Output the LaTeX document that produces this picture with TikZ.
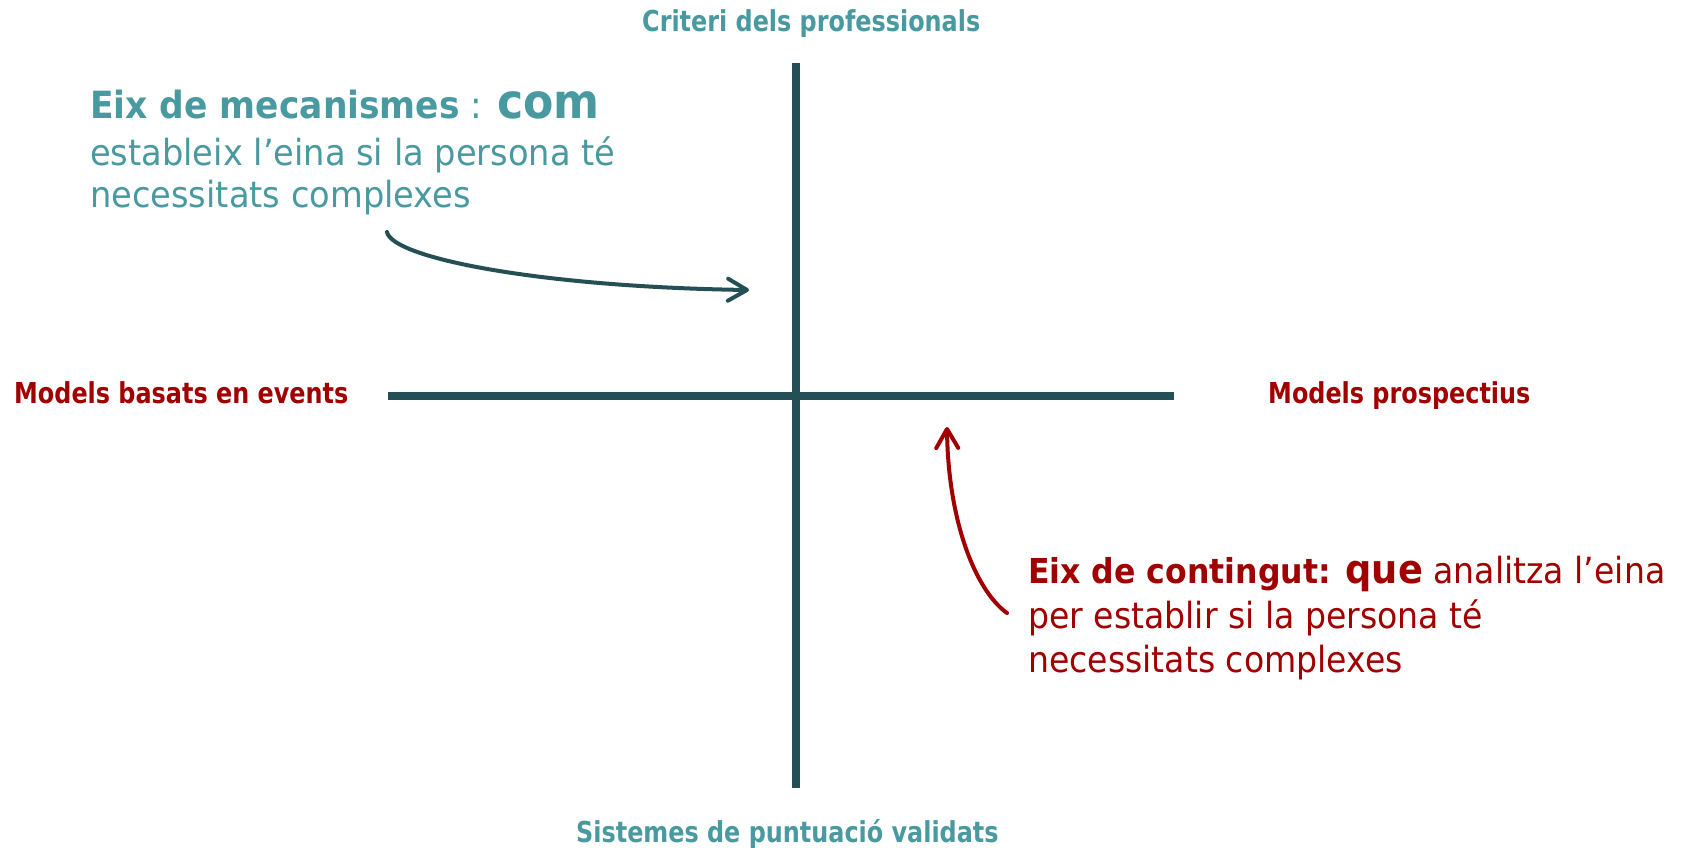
\documentclass[tikz,border=0pt]{standalone}
\usepackage{fontspec}
\setmainfont{DejaVu Sans}
\newfontfamily\labfnt{DejaVu Sans}[FakeStretch=0.83]
\newfontfamily\txtfnt{DejaVu Sans}[FakeStretch=0.92]
\newfontfamily\bodyfnt{DejaVu Sans}[FakeStretch=0.935]
\usetikzlibrary{arrows.meta}
\definecolor{tealtxt}{RGB}{72,153,160}
\definecolor{darkline}{RGB}{36,79,84}
\definecolor{redtxt}{RGB}{160,0,0}
\tikzset{
  axisline/.style={draw=darkline, line width=8pt},
  lbl/.style={inner sep=0pt, anchor=base west, font=\labfnt\bfseries\fontsize{28.8}{34}\selectfont},
  bodyline/.style={inner sep=0pt, anchor=base west, font=\txtfnt\fontsize{36}{44}\selectfont},
  tealbody/.style={inner sep=0pt, anchor=base west, font=\bodyfnt\fontsize{36}{44}\selectfont},
  callout/.style={line width=4pt, -{Straight Barb[length=19pt,width=22pt,line cap=round,line join=round]}, line cap=round}
}
\begin{document}
\begin{tikzpicture}[x=1pt,y=-1pt]
\useasboundingbox[fill=white] (0,0) rectangle (1681,847);
% axes
\coordinate (vt) at (796,63);
\coordinate (vb) at (796,788);
\coordinate (hl) at (388,395.5);
\coordinate (hr) at (1174,395.5);
\draw[axisline] (hl) -- (hr);
\draw[axisline] (vt) -- (vb);
% axis labels
\node[lbl, text=tealtxt] (top) at (642,31) {Criteri dels professionals};
\node[lbl, text=tealtxt] (bot) at (576,842) {Sistemes de puntuació validats};
\node[lbl, text=redtxt] (left) at (14,403) {Models basats en events};
\node[lbl, text=redtxt] (right) at (1268,403) {Models prospectius};
% teal block
\node[bodyline, text=tealtxt] (t1) at (90,118) {{\bfseries\fontsize{37.5}{44}\selectfont Eix de mecanismes}\fontsize{37.5}{44}\selectfont{} : {\bfseries\fontsize{48}{52}\selectfont com}};
\node[tealbody, text=tealtxt] (t2) at (90,165) {estableix l’eina si la persona té};
\node[tealbody, text=tealtxt] (t3) at (90,207) {necessitats complexes};
% red block
\node[bodyline, text=redtxt] (r1) at (1028,583) {{\bfseries\fontsize{34.3}{44}\selectfont Eix de contingut: {\fontsize{40}{44}\selectfont que}} analitza l’eina};
\node[bodyline, text=redtxt] (r2) at (1028,628) {per establir si la persona té};
\node[bodyline, text=redtxt] (r3) at (1028,672) {necessitats complexes};
% callout arrows
\coordinate (a1s) at (387,232);
\coordinate (a1e) at (749,290);
\draw[callout, darkline] (a1s) .. controls (392,258) and (540,287) .. (a1e);
\coordinate (a2s) at (1007,613);
\coordinate (a2e) at (947,427);
\draw[callout, redtxt] (a2s) .. controls (975,590) and (948,520) .. (a2e);
\end{tikzpicture}
\end{document}
